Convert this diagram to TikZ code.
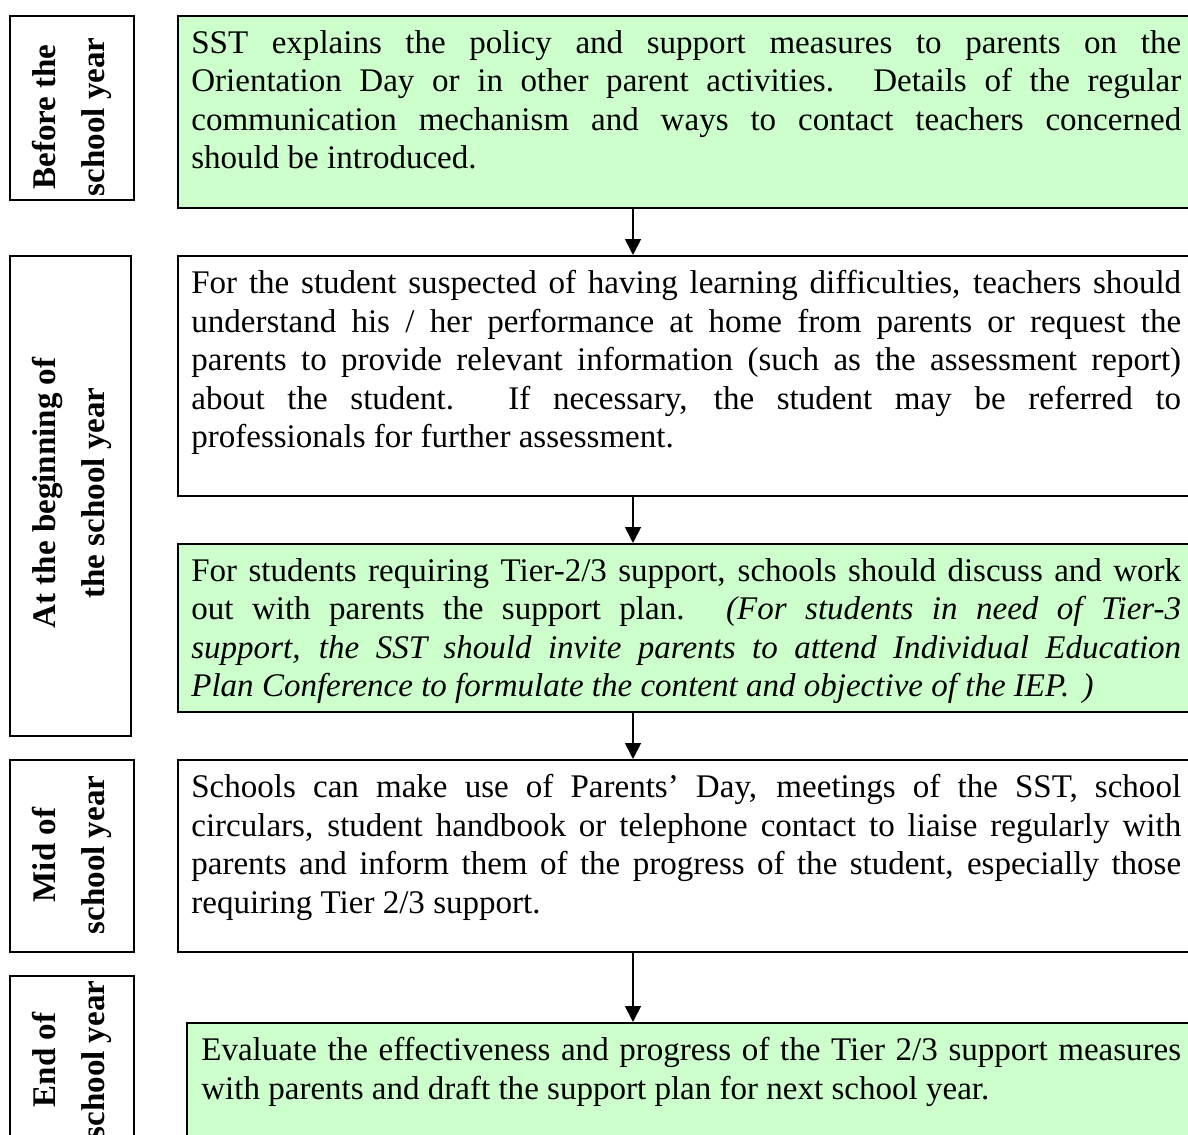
\documentclass[tikz,border=0pt]{standalone}
\usepackage{fontspec}
\setmainfont{Liberation Serif}
\usetikzlibrary{positioning,arrows.meta}
\definecolor{lightgreen}{HTML}{CCFFCC}

\begin{document}
\begin{tikzpicture}[
    x=0.02cm, y=-0.02cm,
    every node/.style={inner sep=0pt},
    phase/.style={draw, line width=1pt, anchor=north west, minimum width=2.48cm},
    phasetext/.style={rotate=90, align=center, font=\fontsize{18.8pt}{27.8pt}\selectfont\bfseries},
    taskbox/.style={draw, line width=1pt, anchor=north west, minimum width=20.4cm},
    tasktext/.style={text width=19.8cm, align=justify, font=\fontsize{18.8pt}{21.9pt}\selectfont},
    flow/.style={line width=1pt, -{Triangle[width=9pt, length=9pt]}}
]
\useasboundingbox (0,0) rectangle (1188,1135);
\clip (0,0) rectangle (1188,1135);

% Phasen
\node[phase, minimum height=3.68cm] (p1) at (9,15) {};
\node[phase, minimum width=2.42cm, minimum height=9.6cm] (p2) at (9,255) {};
\node[phase, minimum height=3.84cm] (p3) at (9,759) {};
\node[phase, minimum height=3.6cm] (p4) at (9,975) {};

\node[phasetext] (n1) at (72,117) {Before the\\school year};
\node[phasetext] (n2) at (72,493) {At the beginning of\\the school year};
\node[phasetext] (n3) at (72,855) {Mid of\\school year};
\node[phasetext] (n4) at (72,1060) {End of\\school year};

% Kasten
\node[taskbox, fill=lightgreen, minimum height=3.84cm] (b1) at (177,15) {};
\node[taskbox, minimum height=4.8cm] (b2) at (177,255) {};
\node[taskbox, fill=lightgreen, minimum height=3.36cm] (b3) at (177,543) {};
\node[taskbox, minimum height=3.84cm] (b4) at (177,759) {};
\node[taskbox, fill=lightgreen, minimum width=20.2cm, minimum height=3cm] (b5) at (186,1022) {};

\node[tasktext, below right=0.3cm and 0.28cm of b1.north west] (t1) {SST explains the policy and support measures to parents on the\linebreak
Orientation Day or in other parent activities. Details of the regular\linebreak
communication mechanism and ways to contact teachers concerned\linebreak
should be introduced.};

\node[tasktext, below right=0.3cm and 0.28cm of b2.north west] (t2) {For the student suspected of having learning difficulties, teachers should\linebreak
understand his / her performance at home from parents or request the\linebreak
parents to provide relevant information (such as the assessment report)\linebreak
about the student. If necessary, the student may be referred to\linebreak
professionals for further assessment.};

\node[tasktext, below right=0.3cm and 0.28cm of b3.north west] (t3) {For students requiring Tier-2/3 support, schools should discuss and work\linebreak
out with parents the support plan. \textit{(For students in need of Tier-3\linebreak
support, the SST should invite parents to attend Individual Education\linebreak
Plan Conference to formulate the content and objective of the IEP.\hspace{0.4em})}};

\node[tasktext, below right=0.3cm and 0.28cm of b4.north west] (t4) {Schools can make use of Parents’ Day, meetings of the SST, school\linebreak
circulars, student handbook or telephone contact to liaise regularly with\linebreak
parents and inform them of the progress of the student, especially those\linebreak
requiring Tier 2/3 support.};

\node[tasktext, text width=19.6cm, below right=0.3cm and 0.3cm of b5.north west] (t5) {Evaluate the effectiveness and progress of the Tier 2/3 support measures\linebreak
with parents and draft the support plan for next school year.};

% Pfeile
\coordinate (mid) at (633,0);
\draw[flow] (b1.south -| mid) -- (b2.north -| mid);
\draw[flow] (b2.south -| mid) -- (b3.north -| mid);
\draw[flow] (b3.south -| mid) -- (b4.north -| mid);
\draw[flow] (b4.south -| mid) -- (b5.north -| mid);
\end{tikzpicture}
\end{document}
